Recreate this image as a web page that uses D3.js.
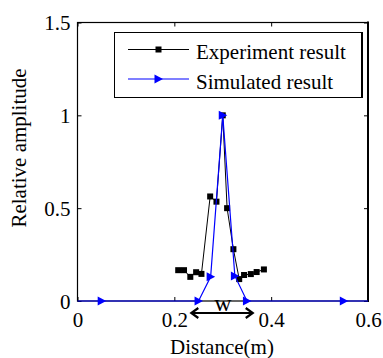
<!DOCTYPE html>
<html>
<head>
<meta charset="utf-8">
<script src="https://cdn.jsdelivr.net/npm/d3@7"></script>
<style>
  html, body { margin: 0; padding: 0; background: #fff; }
  svg { display: block; }
  text { font-family: "Liberation Serif", "Times New Roman", serif; fill: #000; }
</style>
</head>
<body>
<svg id="chart" width="383" height="358"></svg>
<script>
// Measured amplitude profile (black squares)
const expX = [0.208, 0.220, 0.233, 0.245, 0.256, 0.274, 0.287, 0.300, 0.309, 0.322, 0.334, 0.344, 0.358, 0.370, 0.385];
const expY = [0.166, 0.166, 0.130, 0.155, 0.146, 0.563, 0.535, 1.000, 0.500, 0.279, 0.118, 0.140, 0.145, 0.156, 0.170];

// Simulated amplitude profile (blue triangles); the end points carry no marker
const simX = [0, 0.05, 0.25, 0.275, 0.300, 0.325, 0.35, 0.55, 0.6];
const simY = [0, 0, 0, 0.13, 1.0, 0.135, 0, 0, 0];
const simMarked = [false, true, true, true, true, true, true, true, false];

const xTicks = [0, 0.2, 0.4, 0.6];
const yTicks = [0, 0.5, 1, 1.5];
const xTickLabels = ["0", "0.2", "0.4", "0.6"];
const yTickLabels = ["0", "0.5", "1", "1.5"];

const seriesNames = ["Experiment result", "Simulated result"];
const xTitle = "Distance(m)";
const yTitle = "Relative amplitude";
const widthLabel = "w";
const widthSpan = [0.233, 0.364]; // extent of the "w" arrow, in metres

const svg = d3.select("#chart");
const plotL = 77.5, plotR = 368, plotT = 22.5, plotB = 301;

const x = d3.scaleLinear().domain([0, 0.6]).range([plotL, plotR]);
const y = d3.scaleLinear().domain([0, 1.5]).range([plotB, plotT]);

const FONT = 21;

// Axes with inward ticks on all four sides
const tickLen = 4;
const axisG = svg.append("g");
axisG.append("g").attr("transform", `translate(0,${plotB})`)
  .call(d3.axisBottom(x).tickValues(xTicks).tickSize(-tickLen).tickFormat((d, i) => xTickLabels[i]))
  .call(g => g.select(".domain").remove())
  .call(g => g.selectAll("line").attr("stroke", "#000"))
  .call(g => g.selectAll("text").attr("font-size", FONT).attr("font-family", "Liberation Serif").attr("dy", null).attr("y", 26));
axisG.append("g").attr("transform", `translate(0,${plotT})`)
  .call(d3.axisTop(x).tickValues(xTicks).tickSize(-tickLen).tickFormat(""))
  .call(g => g.select(".domain").remove())
  .call(g => g.selectAll("line").attr("stroke", "#000"));
axisG.append("g").attr("transform", `translate(${plotL},0)`)
  .call(d3.axisLeft(y).tickValues(yTicks).tickSize(-tickLen).tickFormat((d, i) => yTickLabels[i]))
  .call(g => g.select(".domain").remove())
  .call(g => g.selectAll("line").attr("stroke", "#000"))
  .call(g => g.selectAll("text").attr("font-size", FONT).attr("font-family", "Liberation Serif").attr("x", -7).attr("dy", "0.34em"));
axisG.append("g").attr("transform", `translate(${plotR},0)`)
  .call(d3.axisRight(y).tickValues(yTicks).tickSize(-tickLen).tickFormat(""))
  .call(g => g.select(".domain").remove())
  .call(g => g.selectAll("line").attr("stroke", "#000"));

// Plot frame
svg.append("rect").attr("x", plotL).attr("y", plotT)
  .attr("width", plotR - plotL).attr("height", plotB - plotT)
  .attr("fill", "none").attr("stroke", "#000").attr("stroke-width", 1.2);
svg.append("line").attr("x1", plotR).attr("x2", plotR).attr("y1", plotT - 1).attr("y2", plotB + 1)
  .attr("stroke", "#000").attr("stroke-width", 2);

// Axis titles
svg.append("text").attr("x", 222).attr("y", 354).attr("text-anchor", "middle")
  .attr("font-size", FONT).text(xTitle);
svg.append("text").attr("transform", "translate(26,148) rotate(-90)").attr("text-anchor", "middle")
  .attr("font-size", FONT).text(yTitle);

const expPts = expX.map((v, i) => [v, expY[i]]);
const simPts = simX.map((v, i) => [v, simY[i], simMarked[i]]);
const line = d3.line().x(d => x(d[0])).y(d => y(d[1]));

const SQ = 6;
const triPath = (cx, cy) => `M${cx - 4},${cy - 4.5}L${cx + 4.5},${cy}L${cx - 4},${cy + 4.5}Z`;

// Experiment series
svg.append("path").datum(expPts).attr("d", line)
  .attr("fill", "none").attr("stroke", "#000").attr("stroke-width", 1);
svg.append("g").selectAll("rect").data(expPts).join("rect")
  .attr("x", d => x(d[0]) - SQ / 2).attr("y", d => y(d[1]) - SQ / 2)
  .attr("width", SQ).attr("height", SQ).attr("fill", "#000");

// Simulated series
svg.append("path").datum(simPts).attr("d", line)
  .attr("fill", "none").attr("stroke", "#0000ff").attr("stroke-width", 1.2);
svg.append("g").selectAll("path").data(simPts.filter(d => d[2])).join("path")
  .attr("d", d => triPath(x(d[0]), y(d[1]))).attr("fill", "#0000ff");

// Width annotation: double-headed arrow with label
const ay = 313, ax1 = x(widthSpan[0]), ax2 = x(widthSpan[1]);
svg.append("line").attr("x1", ax1 + 1).attr("x2", ax2 - 1).attr("y1", ay).attr("y2", ay)
  .attr("stroke", "#000").attr("stroke-width", 2);
svg.append("path").attr("d", `M${ax1 + 8},${ay - 5}L${ax1 + 1},${ay}L${ax1 + 8},${ay + 5}`)
  .attr("fill", "none").attr("stroke", "#000").attr("stroke-width", 2.2);
svg.append("path").attr("d", `M${ax2 - 8},${ay - 5}L${ax2 - 1},${ay}L${ax2 - 8},${ay + 5}`)
  .attr("fill", "none").attr("stroke", "#000").attr("stroke-width", 2.2);
svg.append("text").attr("x", (ax1 + ax2) / 2 + 1).attr("y", 311).attr("text-anchor", "middle")
  .attr("font-size", 24).text(widthLabel);

// Legend
const lg = svg.append("g");
lg.append("rect").attr("x", 114.5).attr("y", 32.5).attr("width", 247).attr("height", 65)
  .attr("fill", "#fff").attr("stroke", "#000").attr("stroke-width", 1);
lg.append("line").attr("x1", 362).attr("x2", 362).attr("y1", 32).attr("y2", 98)
  .attr("stroke", "#000").attr("stroke-width", 2);
const rows = [
  { name: seriesNames[0], color: "#000", y: 49.5, marker: "square" },
  { name: seriesNames[1], color: "#0000ff", y: 79, marker: "tri" }
];
rows.forEach(r => {
  lg.append("line").attr("x1", 128).attr("x2", 189).attr("y1", r.y).attr("y2", r.y)
    .attr("stroke", r.color).attr("stroke-width", r.marker === "tri" ? 1.2 : 1);
  if (r.marker === "square") {
    lg.append("rect").attr("x", 158.5 - SQ / 2).attr("y", r.y - SQ / 2).attr("width", SQ).attr("height", SQ).attr("fill", r.color);
  } else {
    lg.append("path").attr("d", triPath(158.5, r.y)).attr("fill", r.color);
  }
  lg.append("text").attr("x", 196).attr("y", r.y + 9.5).attr("font-size", FONT).text(r.name);
});
</script>
</body>
</html>
